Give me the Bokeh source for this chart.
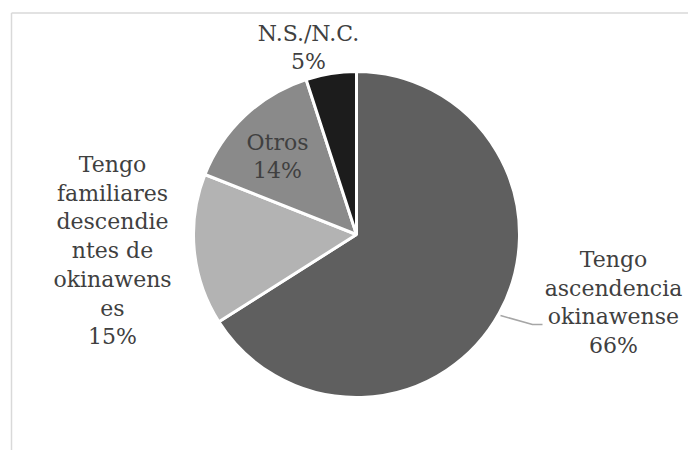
import numpy as np
from bokeh.plotting import figure
from bokeh.models import Range1d
from bokeh.core.properties import value
from bokeh.embed import file_html
from bokeh.resources import INLINE

# Data
categories = ["Tengo ascendencia okinawense",
              "Tengo familiares descendientes de okinawenses",
              "Otros", "N.S./N.C."]
values = [66, 15, 14, 5]
colors = ["#5f5f5f", "#b3b3b3", "#8a8a8a", "#1c1c1c"]
labels = ["Tengo\nascendencia\nokinawense\n66%",
          "Tengo\nfamiliares\ndescendie\nntes de\nokinawens\nes\n15%",
          "Otros\n14%",
          "N.S./N.C.\n5%"]

W, H = 688, 450
H_PAGE = 450


def sy(y):
    # screen y (px from top of page) -> data y
    return H_PAGE - y


p = figure(width=W, height=H, output_backend="svg", toolbar_location=None,
           x_range=Range1d(0, W), y_range=Range1d(H_PAGE - H, H_PAGE),
           min_border=0)
p.axis.visible = False
p.grid.visible = False
p.outline_line_color = None
p.background_fill_color = "white"
p.border_fill_color = "white"

# frame (left and top edges visible)
p.segment(x0=[11, 11], y0=[sy(12.5), sy(12.5)], x1=[11, W], y1=[sy(H), sy(12.5)],
          line_color="#d9d9d9", line_width=1.5)

# pie
cx, cy, r = 356, sy(234), 163
vals = np.array(values, dtype=float)
frac = vals / vals.sum()
cum = np.concatenate([[0], np.cumsum(frac)])
start = np.pi / 2 - cum[:-1] * 2 * np.pi
end = np.pi / 2 - cum[1:] * 2 * np.pi
p.wedge(x=cx, y=cy, radius=r, start_angle=start, end_angle=end, direction="clock",
        fill_color=colors, line_color="white", line_width=3)

# leader line for the big slice
p.line(x=[500, 532, 542], y=[sy(315), sy(324), sy(324)], line_color="#a6a6a6", line_width=1.5)

# labels
lx = [613, 112, 277, 308]
ly = [sy(302), sy(250), sy(156), sy(47)]
p.text(x=lx, y=ly, text=labels, text_align="center", text_baseline="middle",
       text_font=value("DejaVu Serif"), text_font_size="22px", text_color="#404040",
       text_line_height=1.15)

open("out.html", "w").write(file_html(p, INLINE))
